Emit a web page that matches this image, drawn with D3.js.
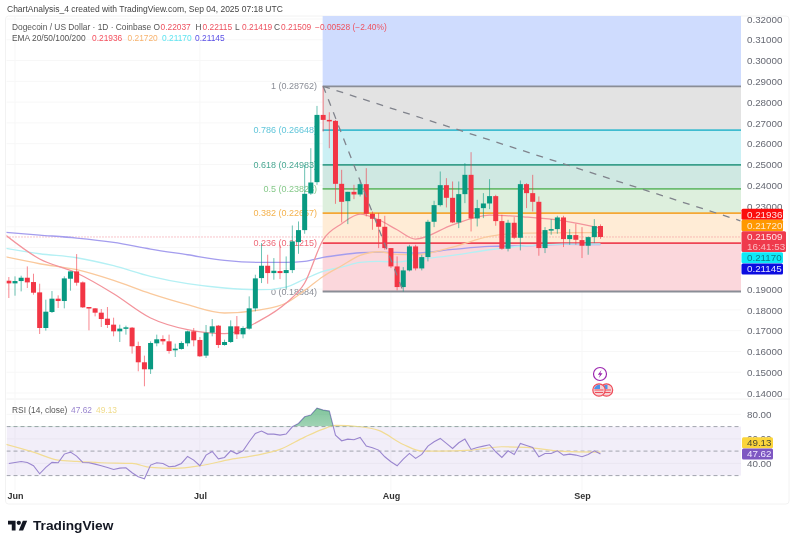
<!DOCTYPE html>
<html>
<head>
<meta charset="utf-8">
<script src="https://cdn.jsdelivr.net/npm/d3@7"></script>
<style>
	html, body { margin: 0; background: #fff; }
	svg { display: block; filter: blur(0.45px); font-family: "Liberation Sans", Arial, sans-serif; }
</style>
</head>
<body>
<div id="chart"></div>
<script>
// day 0 is May 31 2025, one candle per day up to Sep 4
const opens = [.19404,.19276,.19388,.19548,.19340,.18843,.17129,.17898,.18539,.18427,.19500,.19853,.19324,.18138,.18074,.17866,.17577,.17289,.16968,.17145,.17145,.16263,.15478,.15141,.16391,.16600,.16487,.16055,.16119,.16391,.16968,.16552,.15798,.16904,.17241,.16311,.16455,.17209,.16824,.17097,.18074,.19531,.20124,.19772,.19868,.19772,.19916,.21262,.21839,.23602,.24147,.27384,.27144,.27096,.24067,.23233,.23682,.23554,.24051,.22625,.22368,.22000,.20974,.20092,.19099,.19900,.21054,.19996,.20541,.22241,.23042,.24003,.23394,.22209,.23571,.24500,.22401,.22898,.23122,.23475,.22273,.20943,.22193,.21471,.24052,.23619,.23202,.20975,.21840,.21888,.22449,.21407,.21600,.21359,.21087,.21503,.22037];
const closes = [.19276,.19388,.19548,.19324,.18827,.17129,.17914,.18539,.18427,.19516,.19853,.19308,.18122,.18074,.17866,.17561,.17273,.16968,.17097,.17161,.16247,.15478,.15141,.16407,.16584,.16487,.16023,.16135,.16407,.16968,.16536,.15766,.16904,.17209,.16311,.16455,.17209,.16824,.17129,.18074,.19516,.20124,.19772,.19884,.19772,.19916,.21294,.21839,.23586,.24131,.27384,.27144,.27096,.24067,.23201,.23682,.23554,.24051,.22625,.22384,.22000,.20974,.20092,.19099,.19900,.21054,.19996,.20541,.22240,.23042,.24003,.23394,.22209,.23571,.24500,.22401,.22898,.23122,.23475,.22273,.20943,.22193,.21471,.24052,.23619,.23202,.20975,.21840,.21888,.22449,.21407,.21600,.21375,.21087,.21503,.22032,.21509];
const highs = [.19581,.19613,.19645,.20093,.19741,.19260,.18491,.18907,.18699,.19613,.19853,.20686,.19372,.18138,.18090,.18042,.18138,.17625,.17289,.17241,.17177,.16471,.15798,.16487,.16808,.16776,.16808,.16375,.16487,.17000,.17129,.16696,.17273,.17561,.17273,.16568,.17497,.17705,.17209,.18651,.19693,.21214,.20653,.20493,.21134,.20573,.22063,.22256,.24980,.25782,.27817,.28762,.27512,.27144,.24740,.23682,.24019,.24259,.24820,.22737,.22657,.22528,.20974,.20573,.20060,.21134,.21134,.20653,.22336,.23250,.24661,.24340,.24180,.24180,.25061,.25590,.23298,.23619,.24292,.23539,.22577,.22337,.22465,.24228,.24100,.24500,.23459,.21984,.22369,.22529,.22529,.21888,.22144,.21984,.21535,.22369,.22115];
const lows = [.18571,.18683,.18891,.19052,.18731,.16840,.17000,.17850,.18090,.18074,.18923,.19164,.18090,.17016,.17689,.17177,.17129,.16728,.16455,.16808,.15895,.15045,.14324,.14917,.16247,.16327,.15895,.15734,.16087,.16247,.16247,.15734,.15686,.16728,.16167,.16279,.16407,.16600,.16632,.17048,.17930,.19291,.19259,.19451,.19483,.18971,.19772,.20701,.21663,.23538,.24019,.26583,.25782,.23105,.22208,.22128,.23330,.23458,.22497,.21855,.20974,.20894,.20012,.18939,.18884,.19852,.19900,.19900,.20333,.21984,.22978,.22930,.22177,.21936,.23138,.21776,.22016,.22417,.22850,.22048,.20894,.20814,.21407,.20862,.22898,.22737,.20606,.20734,.21616,.21664,.21023,.21135,.21135,.20494,.20654,.21215,.21419];

// EMAs at these days
const emaDays = [-1,5,11,17,23,29,35,41,45,48,51,54,57,60,63,66,72,78,84,90,96];
const ema20 = [.21712,.20447,.19774,.18779,.17611,.17048,.16856,.17529,.18332,.19293,.21375,.22144,.22611,.22337,.21856,.21409,.22096,.22562,.22466,.22288,.21936];
const ema50 = [.20582,.20221,.19933,.19418,.18779,.18250,.17851,.18010,.18332,.18937,.19610,.20125,.20620,.20798,.20668,.20654,.21024,.21534,.21697,.21712,.21720];
const ema100 = [.20990,.20702,.20510,.20125,.19610,.19260,.19053,.18971,.19101,.19486,.19851,.20062,.20284,.20332,.20303,.20413,.20620,.20894,.21087,.21168,.21170];
const ema200 = [.21745,.21601,.21457,.21245,.20928,.20654,.20380,.20284,.20284,.20332,.20524,.20654,.20750,.20784,.20768,.20735,.20909,.21053,.21087,.21149,.21145];

const rsiValues = [39.93,40.75,41.56,40.75,38.03,31.5,36.66,40.75,40.47,47.55,49.18,45.92,40.75,40.47,39.39,38.03,36.66,35.03,36.12,36.39,32.31,29.05,27.41,38.57,40.47,39.93,37.21,37.75,39.93,45.64,42.65,38.03,46.73,49.73,43.74,44.83,50.27,47.82,50.27,57.62,64.42,66.32,63.88,63.88,63.06,63.88,69.86,72.58,78.03,79.39,85.1,83.47,82.65,63.06,58.43,59.79,59.25,61.15,54.08,52.72,50.81,45.37,41.29,38.03,43.48,48.1,44.02,47.29,54.09,57.63,60.35,56.27,52.18,56.81,59.8,51.37,53.0,54.09,55.18,49.46,44.84,50.28,47.29,56.27,54.63,53.0,45.38,48.1,48.1,50.28,46.74,47.56,46.74,45.38,47.29,50.28,47.62];
const rsiMaDays = [-1,4,8,11,15,20,23,27,31,36,40,44,48,51,53,57,60,64,67,70,75,80,84,90,96];
const rsiMa = [56.26,49.18,42.65,41.56,40.47,39.93,36.66,35.85,38.03,43.2,46.46,51.36,61.43,67.96,70.95,69.86,66.87,55.45,50.0,50.0,50.82,53.54,53.0,49.73,49.13];

const fibRatios = ["1","0.786","0.618","0.5","0.382","0.236","0"];
const fibPrices = [.28762,.26648,.24983,.23823,.22657,.21215,.18884];
const fibLineColors = ["#8a8d96","#3fbcd0","#3a9f8b","#6cbc70","#f5a733","#ee4454","#8a8d96"];
const fibTextColors = ["#8a8d96","#62c6da","#4aa893","#86c98a","#f4b24e","#ee6a78","#8a8d96"];
const fibFills = ["#e3e3e3","#cbf0f4","#cfe8e2","#ddefdd","#ffecd6","#fbd7dc"];

const priceTicks = [.14,.15,.16,.17,.18,.19,.23,.24,.25,.26,.27,.28,.29,.30,.31,.32];
const gridPrices = d3.range(14, 33).map((d) => d / 100);
const rsiTicks = [40,60,80];
const monthDays = [1,31,62,93];
const monthNames = ["Jun","Jul","Aug","Sep"];

const width = 800;
const height = 533;
const paneLeft = 6.5;
const paneRight = 741;
const upColor = "#089981";
const downColor = "#f23645";

const x = d3.scaleLinear().domain([1, 93]).range([15, 582]);
const y = d3.scaleLinear().domain([0.14, 0.32]).range([393, 19]);
const rsiY = d3.scaleLinear().domain([30, 70]).range([475.6, 426.6]);

const svg = d3.select("#chart").append("svg").attr("width", width).attr("height", height);
const defs = svg.append("defs");
defs.append("clipPath").attr("id", "mainClip").append("rect")
	.attr("x", paneLeft).attr("y", 16).attr("width", paneRight - paneLeft).attr("height", 383);
defs.append("clipPath").attr("id", "rsiClip").append("rect")
	.attr("x", paneLeft).attr("y", 399).attr("width", paneRight - paneLeft).attr("height", 105);
defs.append("clipPath").attr("id", "overClip").append("rect")
	.attr("x", paneLeft).attr("y", 399).attr("width", paneRight - paneLeft).attr("height", rsiY(70) - 399);
const overGrad = defs.append("linearGradient").attr("id", "overGrad").attr("x1", 0).attr("x2", 0).attr("y1", 0).attr("y2", 1);
overGrad.append("stop").attr("offset", 0).attr("stop-color", "#2e9e5b").attr("stop-opacity", 0.6);
overGrad.append("stop").attr("offset", 1).attr("stop-color", "#2e9e5b").attr("stop-opacity", 0.05);

// frame and grid
svg.append("rect").attr("x", paneLeft - 1).attr("y", 16).attr("width", 790 - paneLeft).attr("height", 488)
	.attr("rx", 3).attr("fill", "none").attr("stroke", "#f2f2f2");
svg.append("line").attr("x1", paneLeft).attr("x2", 790).attr("y1", 399).attr("y2", 399).attr("stroke", "#f0f0f0");

const grid = svg.append("g").attr("stroke", "#f7f7f7");
grid.selectAll(".hgrid").data(gridPrices).enter().append("line")
	.attr("x1", paneLeft).attr("x2", paneRight).attr("y1", (d) => y(d)).attr("y2", (d) => y(d));
grid.selectAll(".vgrid").data(monthDays).enter().append("line")
	.attr("x1", (d) => x(d)).attr("x2", (d) => x(d)).attr("y1", 16).attr("y2", 490);
grid.selectAll(".rgrid").data(rsiTicks).enter().append("line")
	.attr("x1", paneLeft).attr("x2", paneRight).attr("y1", (d) => rsiY(d)).attr("y2", (d) => rsiY(d));

// fib zones
const main = svg.append("g").attr("clip-path", "url(#mainClip)");
const fibLeft = x(51) - 0.5;
main.append("rect").attr("x", fibLeft).attr("y", 16).attr("width", paneRight - fibLeft).attr("height", y(fibPrices[0]) - 16)
	.attr("fill", "#cfdcfe");
main.selectAll(".fibZone").data(fibFills).enter().append("rect")
	.attr("x", fibLeft).attr("width", paneRight - fibLeft)
	.attr("y", (_d, i) => y(fibPrices[i]))
	.attr("height", (_d, i) => y(fibPrices[i + 1]) - y(fibPrices[i]))
	.attr("fill", (d) => d);
main.selectAll(".fibLine").data(fibPrices).enter().append("line")
	.attr("x1", fibLeft).attr("x2", paneRight)
	.attr("y1", (d) => y(d)).attr("y2", (d) => y(d))
	.attr("stroke", (_d, i) => fibLineColors[i]).attr("stroke-width", 1.8);
main.selectAll(".fibLabel").data(fibPrices).enter().append("text")
	.attr("x", 317).attr("y", (d) => y(d)).attr("dy", "0.35em").attr("text-anchor", "end")
	.attr("font-size", 9).attr("fill", (_d, i) => fibTextColors[i])
	.text((d, i) => `${fibRatios[i]} (${d3.format(".5f")(d)})`);

// last price line
main.append("line").attr("x1", paneLeft).attr("x2", paneRight)
	.attr("y1", y(closes[96])).attr("y2", y(closes[96]))
	.attr("stroke", "#f08a94").attr("stroke-dasharray", "1 2");

// EMAs
const emaLine = d3.line().x((d, i) => x(emaDays[i])).y((d) => y(d)).curve(d3.curveMonotoneX);
const emaSeries = [ema200, ema100, ema50, ema20];
const emaColors = ["#a49dee", "#b4f0f4", "#fac99c", "#f3949c"];
main.selectAll(".ema").data(emaSeries).enter().append("path")
	.attr("d", emaLine).attr("fill", "none")
	.attr("stroke", (_d, i) => emaColors[i]).attr("stroke-width", 1.3);

// candles
const candleColor = (i) => (closes[i] >= opens[i] ? upColor : downColor);
main.selectAll(".wick").data(highs).enter().append("line")
	.attr("x1", (_d, i) => x(i)).attr("x2", (_d, i) => x(i))
	.attr("y1", (d) => y(d)).attr("y2", (_d, i) => y(lows[i]))
	.attr("stroke", (_d, i) => candleColor(i)).attr("stroke-opacity", 0.6);
main.selectAll(".body").data(opens).enter().append("rect")
	.attr("x", (_d, i) => x(i) - 2.5).attr("width", 5)
	.attr("y", (d, i) => y(Math.max(d, closes[i])))
	.attr("height", (d, i) => Math.max(1.5, Math.abs(y(d) - y(closes[i]))))
	.attr("fill", (_d, i) => candleColor(i));

// dashed trend lines from the top to the low and to the right edge
const dashed = d3.line().x((d) => x(d[0])).y((d) => y(d[1]));
const trendLines = [[[51, .28762], [64, .18884]], [[51, .28762], [118.7, .22288]]];
main.selectAll(".trend").data(trendLines).enter().append("path")
	.attr("d", dashed).attr("fill", "none").attr("stroke", "#80838c")
	.attr("stroke-width", 1.3).attr("stroke-dasharray", "7 7");

// event badges
main.append("circle").attr("cx", 600).attr("cy", 374).attr("r", 6.5).attr("fill", "#fff").attr("stroke", "#9c27b0").attr("stroke-width", 1.2);
main.append("path").attr("d", "M601.5 370 L597.8 374.8 H600 L598.8 378 L602.6 373.2 H600.3 Z").attr("fill", "#9c27b0");
[606.5, 599].forEach((cx) => {
	main.append("circle").attr("cx", cx).attr("cy", 390).attr("r", 6.2).attr("fill", "#f6d0d3").attr("stroke", "#ef4d5a").attr("stroke-width", 1.2);
	main.append("rect").attr("x", cx - 4.5).attr("y", 389.5).attr("width", 9).attr("height", 1).attr("fill", "#ef4d5a");
	main.append("rect").attr("x", cx - 4).attr("y", 392).attr("width", 8).attr("height", 1).attr("fill", "#ef4d5a");
	main.append("path").attr("d", `M${cx - 5} 389 A5.4 5.4 0 0 1 ${cx + 1} 384.8 V389 Z`).attr("fill", "#4f94e8");
});

// RSI pane
const rsi = svg.append("g").attr("clip-path", "url(#rsiClip)");
rsi.append("rect").attr("x", paneLeft).attr("width", paneRight - paneLeft)
	.attr("y", rsiY(70)).attr("height", rsiY(30) - rsiY(70)).attr("fill", "#7e57c2").attr("fill-opacity", 0.1);
rsi.selectAll(".band").data([70, 50, 30]).enter().append("line")
	.attr("x1", paneLeft).attr("x2", paneRight)
	.attr("y1", (d) => rsiY(d)).attr("y2", (d) => rsiY(d))
	.attr("stroke", "#a2a4ae").attr("stroke-dasharray", "4 3");
svg.append("path").datum(rsiValues).attr("clip-path", "url(#overClip)")
	.attr("fill", "url(#overGrad)")
	.attr("d", d3.area().x((_d, i) => x(i)).y0(rsiY(70)).y1((d) => rsiY(d)));
rsi.append("path").datum(rsiMa).attr("fill", "none").attr("stroke", "#f2dc94").attr("stroke-width", 1.2)
	.attr("d", d3.line().x((_d, i) => x(rsiMaDays[i])).y((d) => rsiY(d)).curve(d3.curveMonotoneX));
rsi.append("path").datum(rsiValues).attr("fill", "none").attr("stroke", "#9a86cf").attr("stroke-width", 1.1)
	.attr("d", d3.line().x((_d, i) => x(i)).y((d) => rsiY(d)));

// axes
const priceAxis = svg.append("g").attr("transform", `translate(${paneRight},0)`)
	.call(d3.axisRight(y).tickValues(priceTicks).tickFormat(d3.format(".5f")).tickSize(0).tickPadding(6));
const rsiAxis = svg.append("g").attr("transform", `translate(${paneRight},0)`)
	.call(d3.axisRight(rsiY).tickValues(rsiTicks).tickFormat(d3.format(".2f")).tickSize(0).tickPadding(6));
const timeAxis = svg.append("g").attr("transform", "translate(0,492)")
	.call(d3.axisBottom(x).tickValues(monthDays).tickFormat((_d, i) => monthNames[i]).tickSize(0).tickPadding(1));
[priceAxis, rsiAxis, timeAxis].forEach((a) => {
	a.select(".domain").remove();
	a.attr("font-family", null).attr("font-size", 9.8);
	a.selectAll("text").attr("fill", "#666973");
});
timeAxis.selectAll("text").attr("fill", "#333").attr("font-weight", 600).attr("font-size", 9);

// price tags on the axis
const tagLabels = [["0.21936"], ["0.21720"], ["0.21509", "16:41:53"], ["0.21170"], ["0.21145"]];
const tagColors = ["#fb0d0d", "#ff9800", "#ef3a4c", "#0ee8f6", "#0c0ce0"];
const tagText = ["#ffe3e3", "#ffe9cf", "#ffe3e6", "#0a7f88", "#e3e3ff"];
const tagTops = [208.8, 219.8, 231.2, 252.2, 263.4];
const tagHeights = [11, 11.4, 20.8, 11, 11];
const tags = svg.append("g");
tagLabels.forEach((lines, i) => {
	tags.append("rect").attr("x", 741.5).attr("y", tagTops[i]).attr("width", i === 2 ? 44.5 : 41.5).attr("height", tagHeights[i])
		.attr("rx", 1.5).attr("fill", tagColors[i]);
	lines.forEach((t, j) => {
		tags.append("text").attr("x", 747).attr("y", tagTops[i] + 8.8 + j * 9.6).attr("font-size", 9.8)
			.attr("fill", tagText[i]).attr("fill-opacity", j ? 0.75 : 1).text(t);
	});
});
const rsiTagLabels = ["49.13", "47.62"];
const rsiTagColors = ["#fbd53c", "#7e57c2"];
const rsiTagText = ["#4a4a30", "#eee6ff"];
rsiTagLabels.forEach((t, i) => {
	tags.append("rect").attr("x", 742).attr("y", 437.3 + i * 11.2).attr("width", 31).attr("height", 11).attr("rx", 1.5).attr("fill", rsiTagColors[i]);
	tags.append("text").attr("x", 747).attr("y", 446.2 + i * 11.2).attr("font-size", 9.8).attr("fill", rsiTagText[i]).text(t);
});

// header texts
const textSize = 8.4;
const addText = (px, py, str, fill, size) => svg.append("text").attr("x", px).attr("y", py)
	.attr("fill", fill).attr("font-size", size).text(str);
addText(7, 12, "ChartAnalysis_4 created with TradingView.com, Sep 04, 2025 07:18 UTC", "#444", 8.5);
addText(12, 30, "Dogecoin / US Dollar · 1D · Coinbase", "#555", textSize);
const ohlcLabels = ["O", "H", "L", "C"];
const ohlcValues = ["0.22037", "0.22115", "0.21419", "0.21509"];
const ohlcLabelX = [153.5, 195.5, 235, 274];
ohlcLabels.forEach((t, i) => {
	addText(ohlcLabelX[i], 30, t, "#555", textSize);
	addText(ohlcLabelX[i] + 7, 30, ohlcValues[i], "#ee5260", textSize);
});
addText(315, 30, "−0.00528 (−2.40%)", "#ee5260", textSize);
addText(12, 41, "EMA 20/50/100/200", "#555", textSize);
const emaLegend = ["0.21936", "0.21720", "0.21170", "0.21145"];
const emaLegendColors = ["#f4505e", "#f8b36e", "#62e4f0", "#5a50e6"];
const emaLegendX = [92, 127.5, 162, 195];
emaLegend.forEach((t, i) => addText(emaLegendX[i], 41, t, emaLegendColors[i], textSize));
addText(12, 413, "RSI (14, close)", "#555", textSize);
addText(71, 413, "47.62", "#9a86cf", textSize);
addText(96, 413, "49.13", "#f0dc8c", textSize);

// TradingView logo
svg.append("path").attr("transform", "translate(8,518.5) scale(0.54)")
	.attr("d", "M14 22H7V11H0V4h14v18zM28 22h-8l7.5-18h8L28 22z").attr("fill", "#131722");
svg.append("circle").attr("cx", 8 + 20 * 0.54).attr("cy", 518.5 + 8 * 0.54).attr("r", 4 * 0.54).attr("fill", "#131722");
addText(33, 530, "TradingView", "#131722", 13.7).attr("font-weight", 600);
</script>
</body>
</html>
